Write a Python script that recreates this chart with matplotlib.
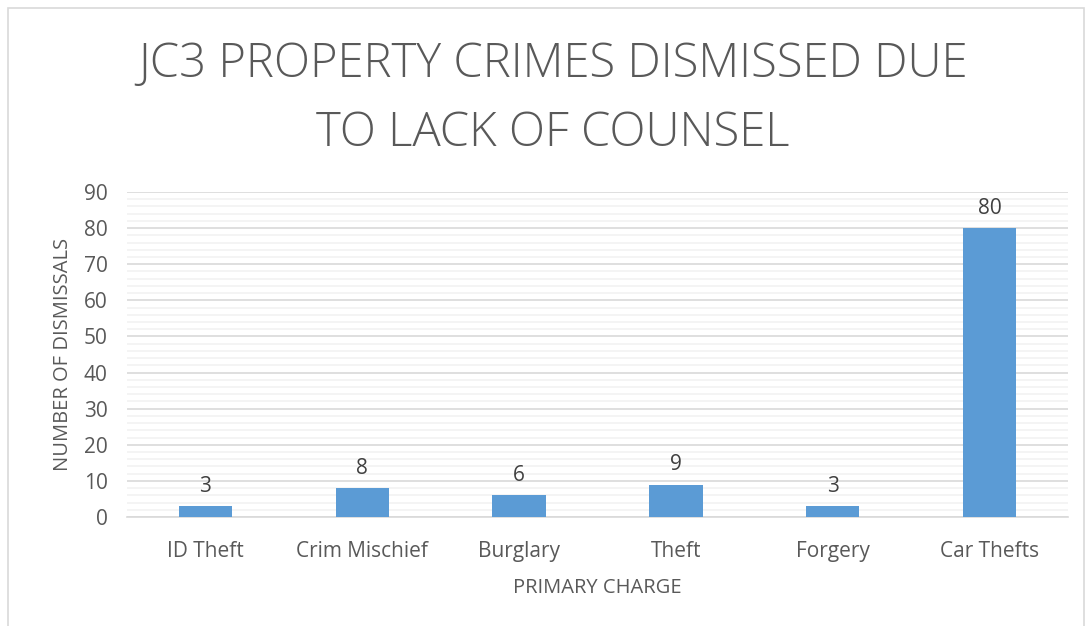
import matplotlib
matplotlib.use("Agg")
import matplotlib.pyplot as plt
from matplotlib.patches import Rectangle
import numpy as np

categories = ["ID Theft", "Crim Mischief", "Burglary", "Theft", "Forgery", "Car Thefts"]
values = [3, 8, 6, 9, 3, 80]
yticks = [0, 10, 20, 30, 40, 50, 60, 70, 80, 90]

plt.rcParams['font.family'] = ['Open Sans', 'DejaVu Sans']
txt = '#595959'

fig = plt.figure(figsize=(10.92, 6.26), dpi=100)
fig.patches.append(Rectangle((8/1092, -0.1), (1084-8)/1092, 1 - 8/626 + 0.1, transform=fig.transFigure,
                             fill=False, edgecolor='#d9d9d9', linewidth=1.2))
ax = fig.add_axes([127/1092, 1 - 517/626, (1068-127)/1092, (517-192)/626])
x = np.arange(len(categories))
ax.bar(x, values, width=0.34, color='#5b9bd5', zorder=3)
for xi, v in zip(x, values):
    ax.text(xi, v + 2.6, str(v), ha='center', va='bottom', fontsize=15, color='#404040')
ax.set_xlim(-0.5, len(categories) - 0.5)
ax.set_ylim(0, 90)
ax.set_yticks(yticks)
ax.set_yticks(np.arange(0, 91, 2), minor=True)
ax.grid(axis='y', which='major', color='#d9d9d9', linewidth=1.2, zorder=0)
ax.grid(axis='y', which='minor', color='#f2f2f2', linewidth=1.2, zorder=0)
ax.tick_params(axis='y', which='both', length=0, labelsize=15, labelcolor=txt, pad=14)
ax.set_xticks(x)
ax.set_xticklabels(categories)
ax.tick_params(axis='x', length=0, labelsize=15, labelcolor=txt, pad=17)
for s in ['top', 'right', 'left']:
    ax.spines[s].set_visible(False)
ax.spines['bottom'].set_color('#d9d9d9')
ax.spines['bottom'].set_linewidth(1.2)
ax.set_xlabel("PRIMARY CHARGE", fontsize=14.5, color=txt, labelpad=12)
ax.set_ylabel("NUMBER OF DISMISSALS", fontsize=14.5, color=txt, labelpad=8)
fig.text(553/1092, 1 - 99/626, "JC3 PROPERTY CRIMES DISMISSED DUE\nTO LACK OF COUNSEL", ha='center', va='center',
         fontsize=34, fontweight='light', color=txt, linespacing=1.55)
fig.savefig("out.png", dpi=100)
